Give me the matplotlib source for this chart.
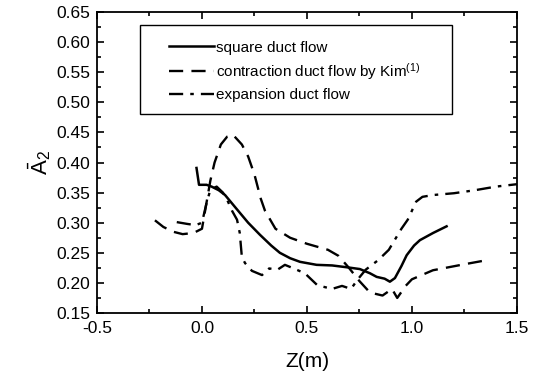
import numpy as np
import matplotlib
matplotlib.use("Agg")
import matplotlib.pyplot as plt
from matplotlib.ticker import MultipleLocator
from matplotlib.patches import Rectangle

plt.rcParams['font.family'] = ['Liberation Sans', 'DejaVu Sans']
plt.rcParams['mathtext.fontset'] = 'custom'
plt.rcParams['mathtext.rm'] = 'Liberation Sans'
plt.rcParams['mathtext.it'] = 'Liberation Sans'

# square duct flow (solid)
z_square = [-0.026, -0.014, 0.022, 0.046, 0.08, 0.11, 0.16, 0.22, 0.276, 0.33, 0.371,
            0.42, 0.467, 0.546, 0.62, 0.689, 0.752, 0.80, 0.832, 0.87, 0.895, 0.919,
            0.95, 0.975, 1.01, 1.038, 1.101, 1.165]
a_square = [0.391, 0.363, 0.363, 0.36, 0.354, 0.346, 0.325, 0.30, 0.28, 0.262, 0.25,
            0.241, 0.235, 0.23, 0.229, 0.226, 0.223, 0.216, 0.21, 0.207, 0.202, 0.208,
            0.228, 0.246, 0.262, 0.271, 0.283, 0.294]

# contraction duct flow by Kim (dashed)
z_contr = [-0.224, -0.184, -0.137, -0.092, -0.04, 0.0, 0.02, 0.04, 0.06, 0.09, 0.12,
           0.148, 0.19, 0.22, 0.25, 0.28, 0.30, 0.35, 0.42, 0.5, 0.6, 0.65, 0.70,
           0.75, 0.80, 0.86, 0.905, 0.93, 0.97, 1.0, 1.1, 1.25, 1.36]
a_contr = [0.304, 0.293, 0.285, 0.281, 0.283, 0.29, 0.33, 0.37, 0.40, 0.43, 0.443,
           0.446, 0.43, 0.41, 0.38, 0.34, 0.32, 0.29, 0.275, 0.265, 0.255, 0.245, 0.225,
           0.203, 0.184, 0.179, 0.19, 0.175, 0.195, 0.206, 0.221, 0.231, 0.238]

# expansion duct flow (dash-dot)
z_exp = [-0.12, -0.07, -0.03, 0.0, 0.02, 0.04, 0.07, 0.10, 0.124, 0.143, 0.167, 0.18,
         0.19, 0.205, 0.238, 0.286, 0.32, 0.36, 0.395, 0.43, 0.49, 0.514, 0.55, 0.62,
         0.667, 0.71, 0.74, 0.78, 0.84, 0.89, 0.95, 0.98, 1.02, 1.05, 1.1, 1.2, 1.3,
         1.4, 1.5]
a_exp = [0.301, 0.298, 0.296, 0.30, 0.33, 0.355, 0.36, 0.35, 0.335, 0.32, 0.305, 0.283,
         0.243, 0.233, 0.22, 0.213, 0.224, 0.222, 0.23, 0.225, 0.216, 0.208, 0.196, 0.19,
         0.195, 0.19, 0.205, 0.222, 0.238, 0.255, 0.29, 0.305, 0.335, 0.343, 0.346, 0.349,
         0.354, 0.36, 0.364]

fig = plt.figure(figsize=(5.37, 3.78), dpi=100)
ax = fig.add_axes([0.1806, 0.172, 0.782, 0.796])

ax.plot(z_square, a_square, color='black', lw=1.8, ls='-', label='square duct flow')
ax.plot(z_contr, a_contr, color='black', lw=1.7, dashes=(6, 3.5),
        label='contraction duct flow by Kim$^{(1)}$')
ax.plot(z_exp, a_exp, color='black', lw=1.7, dashes=(6, 3, 1.5, 3),
        label='expansion duct flow')

ax.set_xlim(-0.5, 1.5)
ax.set_ylim(0.15, 0.65)
ax.xaxis.set_major_locator(MultipleLocator(0.5))
ax.xaxis.set_minor_locator(MultipleLocator(0.25))
ax.yaxis.set_major_locator(MultipleLocator(0.05))
ax.yaxis.set_minor_locator(MultipleLocator(0.025))
ax.tick_params(which='both', direction='in', top=True, right=True, width=1.2)
ax.tick_params(which='major', length=5, labelsize=12.5)
ax.tick_params(axis='x', which='major', pad=6)
ax.tick_params(axis='y', which='major', pad=5)
ax.tick_params(which='minor', length=3)
ax.xaxis.set_major_formatter(plt.FormatStrFormatter('%.1f'))
ax.yaxis.set_major_formatter(plt.FormatStrFormatter('%.2f'))
for s in ax.spines.values():
    s.set_linewidth(1.3)

ax.set_xlabel('Z(m)', fontsize=15, labelpad=11.5)
ax.set_ylabel(r'$\bar{\mathrm{A}}_2$', fontsize=16, labelpad=2)

# legend frame drawn separately, legend entries without frame
ax.add_patch(Rectangle((0.1024, 0.661), 0.7426, 0.296, transform=ax.transAxes,
                       fill=False, edgecolor='black', lw=1.0, zorder=5))
leg = ax.legend(loc='upper left', bbox_to_anchor=(0.172, 0.905), fontsize=11,
                frameon=False, handlelength=2.9, borderpad=0, borderaxespad=0,
                labelspacing=0.42, handletextpad=0.15)

fig.savefig('out.png', dpi=100)
